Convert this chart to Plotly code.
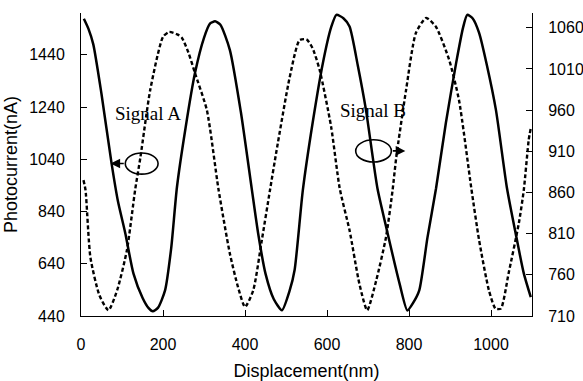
import plotly.graph_objects as go

# Signal A (solid, left axis)
a_x = [7, 18, 30, 50, 74, 90, 108, 128, 150, 165, 175, 188, 205, 220, 234, 255, 278, 300, 315, 327,
       340, 363, 390, 417, 432, 450, 470, 490, 509, 521, 541, 565, 590, 610, 623, 640, 655, 675, 695, 723,
       745, 777, 796, 810, 825, 845, 866, 890, 915, 932, 942, 955, 971, 990, 1012, 1039, 1060, 1080, 1097]
a_y = [1578, 1540, 1480, 1290, 1030, 880, 757, 602, 510, 470, 458, 472, 538, 700, 933, 1160, 1370, 1505, 1560, 1568,
       1555, 1459, 1220, 921, 757, 602, 505, 462, 538, 616, 921, 1180, 1409, 1545, 1593, 1580, 1548, 1400, 1229, 929,
       776, 564, 461, 490, 538, 740, 929, 1180, 1409, 1545, 1593, 1580, 1524, 1400, 1229, 929, 757, 603, 512]

# Signal B (dashed, right axis)
b_x = [6, 11, 23, 45, 67, 88, 112, 132, 145, 169, 200, 215, 235, 246, 262, 278, 307, 335, 363, 383,
       400, 420, 441, 461, 477, 509, 533, 550, 565, 582, 610, 631, 655, 679, 698, 720, 744, 760, 769, 793,
       817, 842, 866, 898, 922, 952, 971, 995, 1011, 1024, 1043, 1068, 1080, 1092, 1097]
b_y = [875, 863, 781, 735, 717, 741, 790, 863, 903, 985, 1049, 1055, 1052, 1048, 1030, 1005, 960, 865, 786, 745,
       721, 741, 802, 863, 911, 1000, 1045, 1046, 1035, 1009, 940, 865, 814, 749, 717, 753, 806, 863, 903, 985,
       1054, 1072, 1061, 1021, 972, 865, 802, 741, 719, 719, 762, 823, 863, 924, 938]

x_ticks = [0, 200, 400, 600, 800, 1000]
left_ticks = [440, 640, 840, 1040, 1240, 1440]
right_ticks = [710, 760, 810, 860, 910, 960, 1010, 1060]

fig = go.Figure()
fig.add_trace(go.Scatter(x=a_x, y=a_y, mode="lines", line=dict(color="black", width=2.5, shape="spline", smoothing=0.6),
                         name="Signal A", yaxis="y"))
fig.add_trace(go.Scatter(x=b_x, y=b_y, mode="lines", line=dict(color="black", width=2.4, dash="4px,2.5px", shape="spline", smoothing=0.6),
                         name="Signal B", yaxis="y2"))

tickfont = dict(family="Liberation Sans, Arial, sans-serif", size=16, color="black")
axis_common = dict(showgrid=False, zeroline=False, showline=True, linecolor="black", linewidth=1,
                   ticks="inside", ticklen=6, tickcolor="black", tickfont=tickfont, automargin=False)

fig.update_layout(
    width=583, height=381,
    margin=dict(l=81, r=51, t=13, b=65),
    paper_bgcolor="white", plot_bgcolor="white",
    showlegend=False,
    xaxis=dict(range=[0, 1100], tickvals=x_ticks, ticklabelstandoff=14,
               title=dict(text="Displacement(nm)", font=dict(family="Liberation Sans, Arial, sans-serif", size=18, color="black"), standoff=12),
               **axis_common),
    yaxis=dict(range=[440, 1600], tickvals=left_ticks, ticklabelstandoff=12,
               title=dict(text="Photocurrent(nA)", font=dict(family="Liberation Sans, Arial, sans-serif", size=18, color="black"), standoff=6),
               **axis_common),
    yaxis2=dict(range=[710, 1078], tickvals=right_ticks, overlaying="y", side="right", ticklabelstandoff=12,
                **axis_common),
)

serif = dict(family="Liberation Serif, Times New Roman, serif", size=19, color="black")
fig.add_annotation(x=164, y=1214, xref="x", yref="y", text="Signal A", showarrow=False, font=serif)
fig.add_annotation(x=711, y=960, xref="x", yref="y2", text="Signal B", showarrow=False, font=serif)

# ellipses
fig.add_shape(type="circle", xref="x", yref="y", x0=108, x1=188, y0=983, y1=1064, line=dict(color="black", width=1.6))
fig.add_shape(type="circle", xref="x", yref="y2", x0=670, x1=757, y0=897, y1=924, line=dict(color="black", width=1.6))

# arrows
fig.add_annotation(x=72, y=1024, xref="x", yref="y", ax=108, ay=1024, axref="x", ayref="y", text="",
                   showarrow=True, arrowhead=2, arrowsize=1.2, arrowwidth=1.6, arrowcolor="black")
fig.add_annotation(x=791, y=910.5, xref="x", yref="y2", ax=757, ay=910.5, axref="x", ayref="y2", text="",
                   showarrow=True, arrowhead=2, arrowsize=1.2, arrowwidth=1.6, arrowcolor="black")

fig.write_html("out.html")
